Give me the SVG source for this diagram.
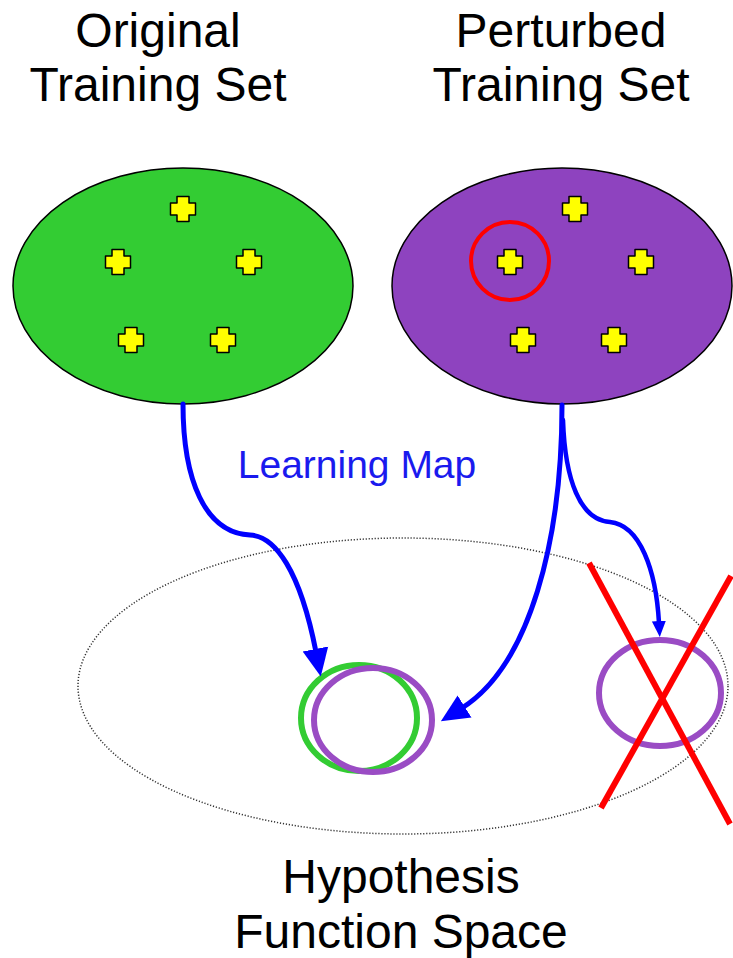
<svg xmlns="http://www.w3.org/2000/svg" width="733" height="958" viewBox="0 0 733 958">
<style>
.title{font-family:"Liberation Sans",Arial,sans-serif;font-size:48px;fill:#000;text-anchor:middle}
.label{font-family:"Liberation Sans",Arial,sans-serif;font-size:39px;fill:#1a1aee;text-anchor:middle}
.set{stroke:#000;stroke-width:1.5}
.pt{fill:#ffff00;stroke:#000;stroke-width:1.5;stroke-linejoin:round}
.conn{fill:none;stroke:#0000ff;stroke-linecap:round}
.red{stroke:#ff0000;stroke-width:6;fill:none}
</style>
<defs>
<path id="plus" d="M-6,-12.5 H6 V-6 H12.5 V6 H6 V12.5 H-6 V6 H-12.5 V-6 H-6 Z"/>
<marker id="ahBig" markerUnits="userSpaceOnUse" markerWidth="28" markerHeight="28" viewBox="0 0 28 28" refX="3" refY="14" orient="auto">
<path d="M0,1 L28,14 L0,27 Z" fill="#0000ff"/>
</marker>
<marker id="ahSmall" markerUnits="userSpaceOnUse" markerWidth="16" markerHeight="16" viewBox="0 0 16 16" refX="2" refY="8" orient="auto">
<path d="M0,1 L16,8 L0,15 Z" fill="#0000ff"/>
</marker>
</defs>
<rect width="733" height="958" fill="#fff"/>

<g id="title-original">
<text class="title" x="158" y="47">Original</text>
<text class="title" x="158" y="101">Training Set</text>
</g>
<g id="title-perturbed">
<text class="title" x="561" y="47">Perturbed</text>
<text class="title" x="561" y="101">Training Set</text>
</g>

<g id="hypothesis-space">
<ellipse cx="403" cy="686" rx="325" ry="148" fill="none" stroke="#333" stroke-width="1.5" stroke-dasharray="1.2,1.8"/>
</g>

<g id="original-set">
<ellipse class="set" cx="183" cy="286" rx="170" ry="118" fill="#33cc33"/>
<use href="#plus" class="pt" x="183" y="209"/>
<use href="#plus" class="pt" x="118" y="262"/>
<use href="#plus" class="pt" x="249" y="262"/>
<use href="#plus" class="pt" x="131" y="340"/>
<use href="#plus" class="pt" x="223" y="340"/>
</g>

<g id="perturbed-set">
<ellipse class="set" cx="562" cy="286" rx="170" ry="118" fill="#8e43bf"/>
<use href="#plus" class="pt" x="575" y="209"/>
<use href="#plus" class="pt" x="510" y="262"/>
<use href="#plus" class="pt" x="641" y="262"/>
<use href="#plus" class="pt" x="523" y="340"/>
<use href="#plus" class="pt" x="614" y="340"/>
<circle cx="510" cy="261" r="39" fill="none" stroke="#ff0000" stroke-width="4"/>
</g>

<g id="hypothesis-original">
<ellipse cx="359" cy="718" rx="58" ry="53" fill="none" stroke="#33cc33" stroke-width="6"/>
</g>
<g id="hypothesis-perturbed">
<ellipse cx="373" cy="720" rx="59" ry="52" fill="none" stroke="#9a4cc4" stroke-width="6"/>
</g>
<g id="hypothesis-rejected">
<ellipse cx="660" cy="693" rx="61" ry="53" fill="none" stroke="#9a4cc4" stroke-width="6"/>
</g>

<g id="connectors">
<path class="conn" stroke-width="5" d="M183,404 C183,480 205,533 250,535 C275,536 300,570 316,652" marker-end="url(#ahBig)"/>
<path class="conn" stroke-width="5" d="M562,405 C562,540 530,665 462,708" marker-end="url(#ahBig)"/>
<path class="conn" stroke-width="4.5" d="M563,420 C565,480 580,520 610,522 C640,525 656,570 659,623" marker-end="url(#ahSmall)"/>
<text class="label" x="357" y="478">Learning Map</text>
</g>

<g id="reject-mark">
<line class="red" x1="589" y1="563" x2="730" y2="824"/>
<line class="red" x1="731" y1="576" x2="601" y2="808"/>
</g>

<g id="title-hypothesis">
<text class="title" x="401" y="893">Hypothesis</text>
<text class="title" x="401" y="948">Function Space</text>
</g>
</svg>
